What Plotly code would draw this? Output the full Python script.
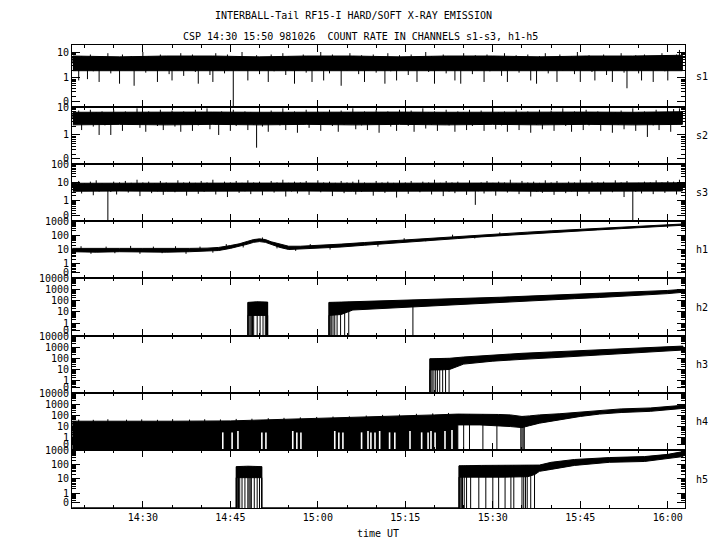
import numpy as np
import plotly.graph_objects as go

# ---------------- data (time in minutes after 14:00 UT) ----------------
# soft channels: count rate sampled every 0.5 min starting 14:18
S_T0, S_DT = 18.0, 0.5
s1_v = [6, 2, 0.8, 7, 2.5, 0.9, 8, 1.8, 5, 0.7,
        7, 2.2, 9, 1.5, 6, 2.8, 0.6, 8, 2, 5.5,
        7, 0.5, 6, 2.4, 10, 1.6, 7, 2.1, 5, 0.7,
        8, 2.3, 6.5, 1.4, 0.8, 7, 2, 9, 1.2, 6,
        2.5, 8, 1.7, 0.6, 7, 2.2, 6, 1.3, 0.7, 9,
        2, 6.5, 1.5, 8, 2.4, 0, 7, 1.9, 10, 2.3,
        0.8, 6, 2.1, 7.5, 1.4, 5.5, 2.6, 0.7, 8, 1.8,
        6, 2.5, 9, 1.3, 7, 2, 0.6, 6.5, 2.3, 8,
        1.6, 5.5, 0.7, 7, 2.2, 10, 0.8, 6, 1.5, 8,
        2.4, 7, 0.5, 6, 1.9, 9, 2.1, 5.5, 1.4, 7.5,
        0.7, 6.5, 2.3, 8, 1.6, 7, 2, 0.6, 9, 1.8,
        6, 0.8, 7.5, 2.5, 5.5, 1.3, 8, 2.1, 0.7, 6.5,
        2.2, 10, 1.7, 7, 0.6, 6, 2.4, 8, 1.5, 6.5,
        2, 0.8, 7, 0.6, 9, 2.3, 6, 1.4, 7.5, 2.1,
        5.5, 0.7, 8, 1.8, 6.5, 2.5, 7, 1.2, 9, 0.7,
        6, 2.2, 7.5, 1.6, 5.5, 2.4, 8, 0.8, 6, 0.6,
        7, 2, 9, 1.5, 6.5, 2.3, 0.7, 8, 1.9, 6,
        2.5, 7, 1.4, 10, 0.7, 6, 2.2, 7.5, 1.7, 0.8,
        6.5, 2.1, 8, 1.3, 5.5, 0.7, 7, 2.4, 9, 1.6,
        0.4, 6, 2, 7.5, 1.5, 0.8, 8, 2.3, 6, 0.7,
        7, 2.2, 9, 1.8, 0.8, 6.5, 2.5, 8, 12, 7]
s2_v = [6, 2.4, 7.5, 1.5, 5.5, 2.8, 8, 2, 6.5, 1.0,
        7, 2.2, 5.5, 1.0, 8, 2.6, 6, 1.4, 7, 2.3,
        5.5, 2.9, 9, 1.8, 6.5, 1.3, 7, 2.5, 6, 2.1,
        8, 1.5, 6, 2.7, 7.5, 2, 5.5, 1.3, 7, 2.4,
        6.5, 1.4, 8, 2.2, 5.5, 2.8, 9, 1.6, 6, 2.3,
        1.0, 7, 2.5, 6, 1.4, 8, 2.1, 5.5, 2.7, 7,
        1.5, 6.5, 2.3, 0.35, 8, 2, 6, 1.3, 7.5, 2.6,
        5.5, 2.2, 9, 1.5, 6.5, 2.8, 7, 1.2, 6, 2.4,
        8, 1.8, 5.5, 2.5, 7, 1.4, 6.5, 2.9, 8, 2.1,
        6, 1.3, 7.5, 2.3, 5.5, 2.7, 9, 1.6, 6.5, 2.2,
        7, 1.5, 6, 2.6, 8, 1.2, 5.5, 2.4, 7, 2,
        6.5, 1.4, 8, 2.8, 6, 2.1, 7.5, 1.3, 5.5, 2.5,
        9, 1.7, 6.5, 2.3, 7, 1.4, 6, 2.9, 8, 2.2,
        5.5, 1.3, 7, 2.6, 6.5, 1.5, 8, 2.1, 6, 2.4,
        7.5, 1.4, 5.5, 2.7, 9, 1.6, 6.5, 2.2, 7, 1.3,
        6, 2.5, 8, 1.5, 6.5, 2.8, 7, 1.2, 5.5, 2.3,
        8, 1.6, 6, 2.4, 7.5, 1.4, 6.5, 2.9, 9, 2.1,
        5.5, 1.3, 7, 2.6, 6, 1.5, 8, 2.2, 6.5, 2.4,
        7, 1.4, 5.5, 2.7, 8, 1.2, 6.5, 2.3, 7.5, 1.6,
        6, 2.5, 9, 1.4, 6.5, 2.8, 7, 0.85, 6, 2.2,
        8, 1.5, 6.5, 2.6, 7, 1.3, 8.5, 2.4, 9, 7]
s3_v = [10, 3.5, 12, 2.5, 9, 3.8, 11, 2, 13, 3.2,
        9, 3.6, 0, 3, 11, 2.2, 10, 3.9, 12, 2.8,
        9.5, 3.4, 14, 1.8, 10, 3.7, 11, 2.6, 9, 3.3,
        12, 2.1, 10, 3.8, 9, 2.9, 13, 3.5, 10, 1.9,
        11, 3.6, 9.5, 2.4, 12, 3.1, 10, 3.9, 14, 2.2,
        9, 3.4, 11, 1.6, 10, 3.7, 12, 2.7, 9.5, 3.3,
        13, 2.3, 10, 3.8, 11, 2, 9, 3.5, 12, 2.8,
        10, 3.6, 14, 1.7, 9.5, 3.2, 11, 2.5, 10, 3.9,
        12, 2.1, 9, 3.4, 13, 2.9, 10, 3.7, 11, 1.8,
        9.5, 3.5, 12, 2.6, 10, 3.8, 11, 2.2, 14, 3.1,
        10, 3.6, 9, 1.9, 12, 3.3, 10, 2.7, 11, 3.9,
        9.5, 1.5, 13, 3.4, 10, 2.4, 12, 3.7, 9, 2.9,
        11, 3.5, 10, 2.2, 14, 3.8, 9.5, 1.8, 12, 3.2,
        10, 2.6, 11, 3.6, 9, 2.1, 13, 3.9, 0.6, 3.3,
        10, 2.5, 12, 3.7, 9.5, 1.9, 11, 3.4, 10, 2.8,
        14, 3.6, 9, 2.3, 12, 3.9, 10, 1.7, 11, 3.2,
        9.5, 2.7, 13, 3.5, 10, 2.1, 12, 3.8, 9, 2.6,
        11, 3.3, 10, 1.8, 14, 3.6, 9.5, 2.4, 12, 3.9,
        10, 2.2, 11, 3.4, 9, 2.9, 13, 3.7, 10, 1.6,
        12, 3.5, 0, 3.1, 9.5, 2.5, 11, 3.8, 10, 2.3,
        13, 3.6, 10, 2.7, 12, 3.4, 11, 2.2, 14, 10]

# dense core of the soft channels (coarse grid)
TC = [18, 26, 34, 42, 50, 58, 66, 74, 82, 90, 98, 106, 114, 122.5]
s1_core_hi = [7, 6.5, 7, 7, 6.5, 7, 7, 6.5, 7, 7, 6.5, 7, 7, 7.5]
s1_core_lo = [1.9, 2.0, 1.9, 1.9, 2.0, 1.9, 1.9, 2.0, 1.9, 1.9, 2.0, 1.9, 1.9, 1.9]
s2_core_hi = [6.5, 6.6, 6.5, 6.6, 6.5, 6.6, 6.5, 6.6, 6.5, 6.6, 6.5, 6.6, 6.5, 6.8]
s2_core_lo = [2.3, 2.4, 2.3, 2.4, 2.3, 2.4, 2.3, 2.4, 2.3, 2.4, 2.3, 2.4, 2.3, 2.4]
s3_core_hi = [9, 9.2, 9, 9.3, 9, 9.2, 9, 9.3, 9, 9.2, 9, 9.3, 9, 9.5]
s3_core_lo = [3.3, 3.4, 3.3, 3.4, 3.3, 3.4, 3.3, 3.4, 3.3, 3.4, 3.3, 3.4, 3.3, 3.4]

h1_t = [17.9, 22, 26, 30, 34, 38, 41, 43, 45, 46.5, 48, 49, 50, 51, 52, 53.5, 55, 57, 60, 64,
        68, 72, 76, 80, 84, 88, 92, 96, 100, 104, 108, 112, 116, 120, 122.6]
h1_hi = [12, 11.5, 12, 12, 11.5, 12, 12.5, 14, 19, 25, 38, 50, 56, 50, 35, 23, 17, 17, 19, 24,
         31, 40, 51, 66, 83, 105, 133, 166, 205, 250, 305, 370, 445, 530, 620]
h1_lo = [7, 6.5, 7, 7, 6.5, 7, 7.5, 8.5, 12, 16, 24, 32, 36, 32, 22, 14, 10, 10, 12, 15,
         20, 27, 35, 46, 59, 77, 99, 126, 157, 193, 238, 292, 355, 430, 505]
h1_fuzz_t = [19.4, 21.1, 23.7, 25.2, 27.9, 29.5, 31.8, 33.3, 35.6, 37.4, 39.8, 42.0, 44.3, 47.2,
             50.5, 53.0, 56.2, 58.7, 62.1, 66.4, 70.3, 74.8, 78.5, 83.1, 86.9, 91.2]
h1_fuzz_v = [17, 5, 16, 5.5, 18, 5, 16, 5.5, 17, 5, 16, 6, 24, 14,
             70, 12, 8, 24, 10, 27, 16, 62, 38, 110, 60, 160]

h2_t = [17.9, 48.0, 48.0, 49.5, 51.4, 51.4, 61.9, 61.9, 64, 66, 70, 74, 78, 82.6, 87, 91.2,
        95, 99.8, 104, 108.3, 112, 116.9, 120, 122.6]
h2_hi = [0, 0, 70, 80, 75, 0, 0, 70, 75, 80, 95, 110, 120, 135, 160, 200,
         240, 300, 360, 450, 550, 680, 800, 1000]
h2_lo = [0, 0, 5, 5, 5, 0, 0, 5, 6, 15, 20, 25, 32, 40, 55, 70,
         90, 115, 150, 190, 250, 330, 420, 550]
h2_drop_t = [48.05, 48.2, 48.4, 48.6, 48.8, 49.0, 49.6, 50.1, 50.6, 51.0, 51.2, 51.35,
             61.95, 62.1, 62.3, 62.6, 62.9, 63.3, 63.9, 64.6, 65.3, 76.3]

h3_t = [17.9, 79.2, 79.2, 81, 82.6, 85, 90, 95, 100, 105, 110, 115, 120, 122.6]
h3_hi = [0, 0, 90, 95, 100, 130, 200, 280, 370, 480, 680, 850, 1100, 1250]
h3_lo = [0, 0, 9, 9, 10, 30, 55, 80, 110, 160, 240, 330, 450, 550]
h3_drop_t = [79.25, 79.4, 79.6, 79.9, 80.2, 80.5, 80.9, 81.4, 81.9, 82.5]

h4_t = [17.9, 25, 35, 45, 52, 57, 65.5, 74, 80, 84, 84, 87.8, 91, 93, 95, 96.3, 98, 101.5,
        105, 108.3, 112, 117, 122.6]
h4_hi = [30, 32, 30, 32, 40, 48, 60, 90, 110, 130, 130, 135, 120, 110, 80, 90, 110, 140,
         200, 300, 380, 460, 800]
h4_lo = [0, 0, 0, 0, 0, 0, 0, 0, 0, 0, 14, 14, 12, 10, 8, 12, 20, 40,
         80, 130, 180, 230, 420]
h4_fuzz_t = [19.0, 21.5, 24.0, 27.2, 29.8, 32.5, 35.1, 38.0, 40.6, 43.3, 46.0, 48.7, 51.5, 54.2,
             57.0, 59.8, 62.6, 65.4, 68.3, 71.1, 74.0, 76.9, 79.7, 82.4]
h4_fuzz_v = [42, 40, 45, 41, 44, 40, 46, 42, 45, 43, 48, 50, 56, 60, 66, 72, 78, 82, 96, 110,
             120, 138, 150, 165]
h4_gap_t = [43.7, 45.3, 46.3, 50.4, 51.1, 55.7, 56.4, 57.1, 62.9, 63.6, 64.3, 67.5, 68.6, 69.1,
            69.8, 70.6, 72.3, 73.2, 75.8, 77.8, 78.9, 79.4, 80.1, 81.8, 83.0]
h4_gap_v = [3, 3, 4, 3, 3, 4, 3, 3, 4, 3, 3, 3, 4, 3, 3, 4, 3, 3, 4, 3, 3, 4, 3, 4, 5]
h4_drop_t = [85.0, 86.0, 88.3, 90.7, 94.8, 95.0, 95.2, 95.4]

h5_t = [17.9, 46.0, 46.0, 48, 50.4, 50.4, 84.2, 84.2, 88, 92, 96, 97.2, 98, 100, 104, 110,
        116, 120, 122.6]
h5_hi = [0, 0, 70, 75, 70, 0, 0, 80, 85, 85, 90, 90, 90, 140, 220, 300, 350, 500, 780]
h5_lo = [0, 0, 12, 12, 12, 0, 0, 13, 13, 13, 14, 20, 33, 45, 85, 140, 160, 250, 350]
h5_drop_t = [46.05, 46.2, 46.4, 46.6, 47.0, 47.5, 48.0, 48.2, 48.4, 48.6, 49.1, 49.6, 50.0, 50.35,
             84.25, 84.4, 84.6, 84.8, 85.1, 85.5, 86.2, 87.6, 88.8, 90.0, 91.0, 92.1, 93.1, 93.6,
             95.0, 95.3, 95.6, 95.9, 96.5, 97.15]

channel_names = ["s1", "s2", "s3", "h1", "h2", "h3", "h4", "h5"]
x_major = [30, 45, 60, 75, 90, 105, 120]
x_major_text = ["14:30", "14:45", "15:00", "15:15", "15:30", "15:45", "16:00"]
x_minor = [20, 25, 35, 40, 50, 55, 65, 70, 80, 85, 95, 100, 110, 115]

# ---------------- layout geometry ----------------
W, H = 720, 550
ML, MR, MT, MB = 72, 35, 45, 42
PH = H - MT - MB
PW = W - ML - MR
BOUNDS = [45, 107, 164, 221, 278, 336, 393, 450, 508]
YR = [(-1.12, 1.27), (-1.04, 1.002), (-1.1, 2.002), (-1.0, 3.002),
      (-1.12, 4.002), (-1.12, 4.002), (-1.1, 4.002), (-1.03, 3.002)]
XR = [17.85, 122.95]
FONT = "DejaVu Sans Mono"


def s_times(vals):
    return [S_T0 + S_DT * k for k in range(len(vals))]


panels = [
    dict(band=(TC, s1_core_hi, s1_core_lo), series=s1_v),
    dict(band=(TC, s2_core_hi, s2_core_lo), series=s2_v),
    dict(band=(TC, s3_core_hi, s3_core_lo), series=s3_v),
    dict(band=(h1_t, h1_hi, h1_lo), fuzz=(h1_fuzz_t, h1_fuzz_v)),
    dict(band=(h2_t, h2_hi, h2_lo), drops=h2_drop_t),
    dict(band=(h3_t, h3_hi, h3_lo), drops=h3_drop_t),
    dict(band=(h4_t, h4_hi, h4_lo), drops=h4_drop_t, gaps=(h4_gap_t, h4_gap_v),
         fuzz=(h4_fuzz_t, h4_fuzz_v)),
    dict(band=(h5_t, h5_hi, h5_lo), drops=h5_drop_t),
]


def tf(v, bottom):
    v = np.asarray(v, dtype=float)
    out = np.full(v.shape, bottom)
    pos = v > 0
    out[pos] = np.log10(v[pos])
    return out


def segs(ts, y0, y1, color, width, xa, ya):
    xs, ys = [], []
    for t, a, b in zip(ts, y0, y1):
        xs += [t, t, None]
        ys += [float(a), float(b), None]
    return go.Scatter(x=xs, y=ys, mode="lines", line=dict(color=color, width=width),
                      xaxis=xa, yaxis=ya, hoverinfo="skip", showlegend=False)


fig = go.Figure()
layout = dict(template="none", width=W, height=H, autosize=False,
              paper_bgcolor="white", plot_bgcolor="white",
              margin=dict(l=ML, r=MR, t=MT, b=MB, pad=0), showlegend=False,
              font=dict(family=FONT, size=10, color="black"))
annotations = []

for i, p in enumerate(panels):
    n = i + 1
    xa = "x" if n == 1 else f"x{n}"
    ya = "y" if n == 1 else f"y{n}"
    r0, r1 = YR[i]
    t, hi, lo = p["band"]
    t = np.asarray(t, dtype=float)
    yh, yl = tf(hi, r0), tf(lo, r0)
    fig.add_trace(go.Scatter(x=np.concatenate([t, t[::-1]]), y=np.concatenate([yh, yl[::-1]]),
                             fill="toself", fillcolor="black", mode="lines",
                             line=dict(color="black", width=1), xaxis=xa, yaxis=ya,
                             hoverinfo="skip", showlegend=False))
    if "series" in p:
        sv = p["series"]
        st = s_times(sv)
        mid = (np.interp(st, t, yh) + np.interp(st, t, yl)) / 2
        fig.add_trace(segs(st, mid, tf(sv, r0), "black", 1, xa, ya))
    if "fuzz" in p:
        ft, fv = p["fuzz"]
        mid = (np.interp(ft, t, yh) + np.interp(ft, t, yl)) / 2
        fig.add_trace(segs(ft, mid, tf(fv, r0), "black", 1, xa, ya))
    if "drops" in p:
        dt = p["drops"]
        fig.add_trace(segs(dt, np.interp(dt, t, yh), [r0] * len(dt), "black", 1, xa, ya))
    if "gaps" in p:
        gt, gv = p["gaps"]
        fig.add_trace(segs(gt, [r0] * len(gt), tf(gv, r0), "white", 1.6, xa, ya))

    top_px, bot_px = BOUNDS[i], BOUNDS[i + 1]
    d0 = (H - MB - bot_px) / PH
    d1 = (H - MB - top_px) / PH
    ppu = (bot_px - top_px) / (r1 - r0)
    zero_pos = r0 + 6.0 / ppu
    top_dec = int(np.floor(r1 + 1e-9))
    tv = [zero_pos] + list(range(0, top_dec + 1))
    tt = ["0"] + [str(10 ** k) for k in range(0, top_dec + 1)]
    minor = []
    for k in range(-1, top_dec + 1):
        for m in range(2, 10):
            v = np.log10(m) + k
            if zero_pos + 0.02 < v < r1:
                minor.append(v)

    layout["yaxis" if n == 1 else f"yaxis{n}"] = dict(
        domain=[d0, d1], range=[r0, r1], anchor=xa, showgrid=False, zeroline=False,
        automargin=False, showline=True, linecolor="black", linewidth=1, mirror="ticks",
        ticks="inside", ticklen=8, tickwidth=1, tickcolor="black",
        tickmode="array", tickvals=tv, ticktext=tt,
        tickfont=dict(family=FONT, size=10, color="black"),
        minor=dict(tickmode="array", tickvals=minor, ticks="inside", ticklen=4,
                   tickwidth=1, tickcolor="black", showgrid=False),
        fixedrange=True)
    layout["xaxis" if n == 1 else f"xaxis{n}"] = dict(
        domain=[0, 1], range=XR, anchor=ya, showgrid=False, zeroline=False,
        automargin=False, showline=True, linecolor="black", linewidth=1, mirror="ticks",
        ticks="inside", ticklen=7, tickwidth=1, tickcolor="black",
        tickmode="array", tickvals=x_major, ticktext=x_major_text,
        showticklabels=(n == len(panels)),
        tickfont=dict(family=FONT, size=10, color="black"),
        minor=dict(tickmode="array", tickvals=x_minor, ticks="inside", ticklen=3,
                   tickwidth=1, tickcolor="black", showgrid=False),
        fixedrange=True)

    annotations.append(dict(text=channel_names[i], xref="paper", yref="paper", x=1.0,
                            y=(d0 + d1) / 2, xanchor="left", yanchor="middle", xshift=9,
                            showarrow=False, font=dict(family=FONT, size=10, color="black")))

annotations += [
    dict(text="INTERBALL-Tail RF15-I HARD/SOFT X-RAY EMISSION", xref="paper", yref="paper",
         x=(353.5 - ML) / PW, y=(H - MB - 15) / PH, xanchor="center", yanchor="middle",
         showarrow=False, font=dict(family=FONT, size=10, color="black")),
    dict(text="CSP 14:30 15:50 981026  COUNT RATE IN CHANNELS s1-s3, h1-h5", xref="paper",
         yref="paper", x=(360 - ML) / PW, y=(H - MB - 37) / PH, xanchor="center",
         yanchor="middle", showarrow=False, font=dict(family=FONT, size=10, color="black")),
    dict(text="time UT", xref="paper", yref="paper", x=(378 - ML) / PW,
         y=(H - MB - 533) / PH, xanchor="center", yanchor="middle", showarrow=False,
         font=dict(family=FONT, size=10, color="black")),
]
layout["annotations"] = annotations
fig.update_layout(**layout)
fig.write_html("out.html", config={"displayModeBar": False, "staticPlot": True},
               post_script="document.body.style.margin='0px';")
